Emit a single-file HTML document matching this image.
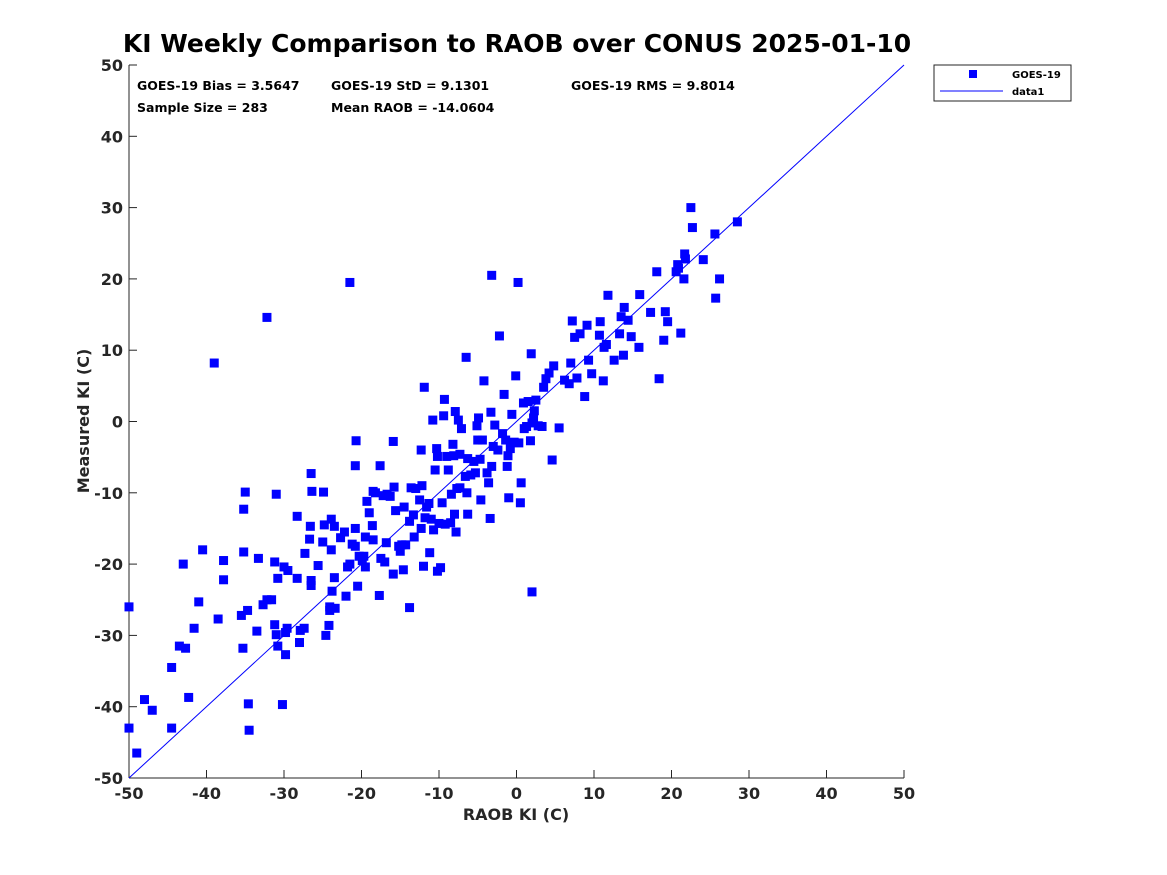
<!DOCTYPE html>
<html><head><meta charset="utf-8"><style>
body{margin:0;background:#fff;}
svg{display:block;font-family:"DejaVu Sans","Liberation Sans",sans-serif;}
</style></head><body>
<svg id="chart" width="1167" height="875">
<text x="517" y="52" text-anchor="middle" font-size="25" font-weight="bold">KI Weekly Comparison to RAOB over CONUS 2025-01-10</text>
<g font-size="12.5" font-weight="bold">
<text x="137" y="90">GOES-19 Bias = 3.5647</text>
<text x="331" y="90">GOES-19 StD = 9.1301</text>
<text x="571" y="90">GOES-19 RMS = 9.8014</text>
<text x="137" y="112">Sample Size = 283</text>
<text x="331" y="112">Mean RAOB = -14.0604</text>
</g>
<g id="axes"></g>
<g id="marks"></g>
<text x="516" y="820" text-anchor="middle" font-size="16" font-weight="bold" fill="#262626">RAOB KI (C)</text>
<text transform="translate(89,421) rotate(-90)" text-anchor="middle" font-size="16" font-weight="bold" fill="#262626">Measured KI (C)</text>
<g>
<rect x="934" y="65" width="137" height="36" fill="#fff" stroke="#262626" stroke-width="1"/>
<rect x="969" y="70" width="8" height="8" fill="#0000ff"/>
<text x="1012" y="78" font-size="10" font-weight="bold">GOES-19</text>
<line x1="940" y1="91" x2="1003" y2="91" stroke="#0000ff" stroke-width="1"/>
<text x="1012" y="95" font-size="10" font-weight="bold">data1</text>
</g>
</svg>
<script>
const xTicks=[-50,-40,-30,-20,-10,0,10,20,30,40,50];
const yTicks=[-50,-40,-30,-20,-10,0,10,20,30,40,50];
const raobX=[-50,-50,-49,-48,-47,-44.5,-44.5,-43.5,-43,-42.7,-42.3,-41.6,-41,-40.5,-39,-38.5,-37.8,-37.8,-35.5,-35.3,-35.2,-35,-35.2,-34.7,-34.6,-34.5,-33.5,-33.3,-32.7,-32.2,-32.2,-31.6,-31.2,-31.2,-31,-31,-30.8,-30.8,-30.2,-30,-29.8,-29.8,-29.5,-29.6,-28.3,-28.3,-28,-27.9,-27.4,-27.3,-26.7,-26.6,-26.5,-26.4,-26.5,-26.5,-25.6,-25,-24.9,-24.8,-24.6,-24.2,-24.1,-24.1,-23.9,-23.9,-23.8,-23.5,-23.5,-23.4,-22.7,-22.2,-22,-21.8,-21.5,-21.5,-21.2,-20.8,-20.8,-20.7,-20.8,-20.5,-20.3,-19.9,-19.7,-19.5,-19.5,-19.3,-19,-18.6,-18.5,-18.5,-18.2,-17.7,-17.6,-17.5,-17.2,-17,-16.8,-16.7,-16.3,-15.9,-15.9,-15.8,-15.6,-15.2,-15,-14.8,-14.6,-14.5,-14.3,-13.8,-13.8,-13.6,-13.3,-13.2,-13,-12.5,-12.3,-12.3,-12.2,-12,-11.9,-11.8,-11.6,-11.3,-11.2,-11,-10.8,-10.7,-10.5,-10.3,-10.2,-10.2,-10,-9.8,-9.6,-9.4,-9.3,-9.2,-9,-8.8,-8.5,-8.4,-8.2,-8.1,-8,-7.9,-7.8,-7.7,-7.5,-7.3,-7.3,-7.1,-6.6,-6.5,-6.4,-6.3,-6.3,-5.9,-5.5,-5.3,-5.1,-5,-4.9,-4.7,-4.6,-4.4,-4.2,-3.8,-3.6,-3.4,-3.3,-3.2,-3.2,-3,-2.8,-2.4,-2.2,-1.8,-1.6,-1.4,-1.2,-1.1,-1,-0.8,-0.6,-0.3,-0.1,0.2,0.3,0.5,0.6,0.9,1,1.3,1.5,1.8,1.9,2,2,2.2,2.3,2.5,2.8,3.3,3.5,3.8,4.2,4.6,4.8,5.5,6.2,6.8,7,7.2,7.5,7.8,8.2,8.8,9.1,9.3,9.7,10.7,10.8,11.2,11.3,11.6,11.8,12.6,13.3,13.5,13.9,13.8,14.4,14.8,15.8,15.9,17.3,18.1,18.4,19,19.2,19.5,20.6,20.8,20.9,21.2,21.6,21.7,21.8,22.5,22.7,24.1,25.6,25.7,26.2,28.5];
const measuredY=[-26,-43,-46.5,-39,-40.5,-34.5,-43,-31.5,-20,-31.8,-38.7,-29,-25.3,-18,8.2,-27.7,-22.2,-19.5,-27.2,-31.8,-12.3,-9.9,-18.3,-26.5,-39.6,-43.3,-29.4,-19.2,-25.7,14.6,-25,-25,-28.5,-19.7,-10.2,-29.9,-31.5,-22,-39.7,-20.4,-29.6,-32.7,-20.9,-29,-13.3,-22,-31,-29.3,-29,-18.5,-16.5,-14.7,-7.3,-9.8,-22.3,-23,-20.2,-16.9,-9.9,-14.5,-30,-28.6,-26,-26.5,-13.7,-18,-23.8,-14.7,-21.9,-26.2,-16.3,-15.5,-24.5,-20.4,-20,19.5,-17.2,-17.5,-15,-2.7,-6.2,-23.1,-18.9,-19.5,-18.9,-20.4,-16.2,-11.2,-12.8,-14.6,-9.8,-16.6,-10,-24.4,-6.2,-19.2,-10.4,-19.7,-17,-10.2,-10.5,-2.8,-21.4,-9.2,-12.5,-17.5,-18.2,-17.3,-20.8,-12,-17.3,-26.1,-14,-9.3,-13.1,-16.2,-9.4,-11,-4,-15,-9,-20.3,4.8,-13.5,-12,-11.5,-18.4,-13.7,0.2,-15.2,-6.8,-3.8,-4.9,-21,-14.3,-20.5,-11.4,0.8,3.1,-14.4,-4.9,-6.8,-14.2,-10.2,-3.2,-4.8,-13,1.4,-15.5,-9.4,0.2,-9.3,-4.6,-1,-7.7,9,-10,-13,-5.2,-7.5,-5.6,-7.2,-0.6,-2.6,0.5,-5.3,-11,-2.6,5.7,-7.2,-8.6,-13.6,1.3,20.5,-6.3,-3.5,-0.5,-4,12,-1.7,3.8,-2.6,-6.3,-4.8,-10.7,-3.8,1,-2.9,6.4,19.5,-3,-11.4,-8.6,2.6,-1,-0.7,2.8,-2.7,9.5,-23.9,-0.2,0.5,1.5,3,-0.6,-0.7,4.8,6,6.8,-5.4,7.8,-0.9,5.8,5.3,8.2,14.1,11.8,6.1,12.3,3.5,13.5,8.6,6.7,12.1,14,5.7,10.4,10.8,17.7,8.6,12.3,14.7,16,9.3,14.2,11.9,10.4,17.8,15.3,21,6,11.4,15.4,14,21,22,21.5,12.4,20,23.5,22.8,30,27.2,22.7,26.3,17.3,20,28];
const refLine=[-50,50];
const L=129,R=904,T=65,B=778;
const sx=v=>L+(v+50)/100*(R-L);
const sy=v=>B-(v+50)/100*(B-T);
const NS="http://www.w3.org/2000/svg";
const axes=document.getElementById('axes'),marks=document.getElementById('marks');
function mk(tag,attrs,parent){const e=document.createElementNS(NS,tag);for(const k in attrs)e.setAttribute(k,attrs[k]);parent.appendChild(e);return e;}
const xa=mk('line',{x1:L,y1:B,x2:R,y2:B,stroke:'#262626','stroke-width':1},axes);


const ya=mk('line',{x1:L,y1:T,x2:L,y2:B,stroke:'#262626','stroke-width':1},axes);


xTicks.forEach(t=>{
 mk('line',{x1:sx(t),y1:B,x2:sx(t),y2:B-8,stroke:'#262626'},axes);
 const tx=mk('text',{x:sx(t),y:B+21,'text-anchor':'middle','font-size':16,'font-weight':'bold',fill:'#262626'},axes);
 tx.textContent=t;
 
 
});
yTicks.forEach(t=>{
 mk('line',{x1:L,y1:sy(t),x2:L+8,y2:sy(t),stroke:'#262626'},axes);
 const tx=mk('text',{x:L-6,y:sy(t)+6,'text-anchor':'end','font-size':16,'font-weight':'bold',fill:'#262626'},axes);
 tx.textContent=t;
 
 
});
raobX.forEach((x,i)=>{
 const r=mk('rect',{x:sx(x)-4.5,y:sy(measuredY[i])-4.5,width:9,height:9,fill:'#0000ff'},marks);
 
 
});
const ln=mk('line',{x1:sx(refLine[0]),y1:sy(refLine[0]),x2:sx(refLine[1]),y2:sy(refLine[1]),stroke:'#0000ff','stroke-width':1},marks);


</script>
</body></html>
